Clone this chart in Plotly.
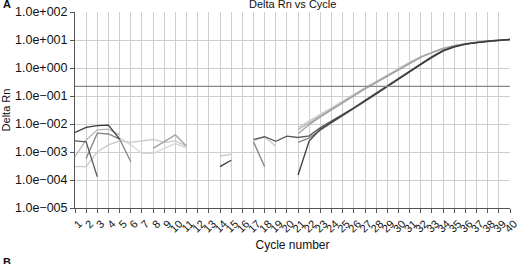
import plotly.graph_objects as go

cycles = list(range(1, 41))
N = None

# Delta Rn values per well (None = non-positive / not plotted on log scale)
well_1 = [0.0050, 0.0076, 0.0087, 0.0091, 0.0029, N, N, N, N, N,
          N, N, N, 0.00030, 0.00051, N, N, N, N, N,
          0.00015, 0.0025, 0.0065, 0.0115, 0.020, 0.036, 0.066, 0.12, 0.22, 0.39,
          0.74, 1.38, 2.45, 4.1, 5.7, 7.1, 8.2, 9.0, 9.7, 10.4]
well_2 = [0.0025, 0.0023, 0.00013, N, N, N, N, N, N, N,
          N, N, N, N, N, N, 0.0028, 0.0035, 0.0024, 0.0037,
          0.0033, 0.0038, 0.0074, 0.0125, 0.022, 0.038, 0.070, 0.127, 0.23, 0.41,
          0.78, 1.44, 2.55, 4.3, 5.9, 7.3, 8.4, 9.2, 9.9, 10.6]
well_3 = [N, 0.00059, 0.0047, 0.0044, 0.0029, 0.00045, N, N, N, N,
          N, N, N, N, N, N, 0.0023, 0.00030, N, N,
          0.0022, 0.0032, 0.0060, 0.0108, 0.019, 0.035, 0.064, 0.117, 0.215, 0.38,
          0.72, 1.35, 2.4, 4.0, 5.6, 7.0, 8.1, 8.9, 9.6, 10.3]
well_4 = [0.00068, 0.0027, 0.0062, 0.0065, 0.0041, N, N, N, N, N,
          N, N, N, N, N, N, N, N, N, N,
          0.0063, 0.0112, 0.020, 0.035, 0.063, 0.112, 0.19, 0.32, 0.54, 0.91,
          1.58, 2.5, 3.6, 5.0, 6.3, 7.4, 8.3, 9.1, 9.8, 10.5]
well_5 = [N, N, N, N, N, N, N, 0.00135, 0.0023, 0.0041,
          0.0016, N, N, N, N, N, N, N, N, N,
          0.0045, 0.0095, 0.018, 0.032, 0.058, 0.104, 0.18, 0.30, 0.51, 0.87,
          1.5, 2.4, 3.5, 4.9, 6.2, 7.3, 8.2, 9.0, 9.7, 10.3]
well_6 = [0.00030, 0.00030, 0.0010, 0.0018, 0.0025, 0.0022, 0.0025, 0.0028, 0.0022, 0.0025,
          0.0016, N, N, 0.00072, 0.00083, N, 0.0026, 0.0035, 0.0016, N,
          0.0075, 0.0125, 0.022, 0.038, 0.067, 0.118, 0.20, 0.33, 0.56, 0.94,
          1.62, 2.55, 3.7, 5.1, 6.4, 7.5, 8.4, 9.2, 9.9, 10.6]
well_7 = [N, N, N, N, 0.0032, 0.0018, 0.00089, 0.00089, 0.00135, 0.0020,
          0.0014, N, N, N, N, N, N, N, N, N,
          N, N, N, N, N, N, N, N, N, N,
          N, N, N, N, N, N, N, N, N, N]

wells = [well_7, well_6, well_4, well_5, well_3, well_2, well_1]
colors = ["#d6d6d6", "#c9c9c9", "#b8b8b8", "#a0a0a0", "#858585", "#5a5a5a", "#3a3a3a"]

threshold = 0.22
ytick_vals = [1e-5, 1e-4, 1e-3, 1e-2, 1e-1, 1e0, 1e1, 1e2]
ytick_text = ["1.0e\u2212005", "1.0e\u2212004", "1.0e\u2212003", "1.0e\u2212002",
              "1.0e\u2212001", "1.0e+000", "1.0e+001", "1.0e+002"]

fig = go.Figure()
for w, c in zip(wells, colors):
    fig.add_trace(go.Scatter(x=cycles, y=w, mode="lines",
                             line=dict(color=c, width=1.3),
                             connectgaps=False, showlegend=False))

fig.add_shape(type="line", xref="paper", x0=0, x1=1, yref="y",
              y0=threshold, y1=threshold, line=dict(color="#8a8a8a", width=1.2))

font = "Liberation Sans, Arial, sans-serif"
fig.update_layout(
    width=523, height=264,
    margin=dict(l=75, r=4, t=12, b=56),
    paper_bgcolor="white", plot_bgcolor="white",
    font=dict(family=font, color="#111", size=11),
    xaxis=dict(range=[0.9999, 40.0001], tickmode="array", tickvals=cycles,
               ticktext=[str(c) for c in cycles], tickangle=-45,
               tickfont=dict(size=11), ticks="outside", ticklen=4,
               ticklabelshift=4, ticklabeloverflow="allow",
               tickcolor="#555", showgrid=True, gridcolor="#cfcfcf",
               gridwidth=1, showline=True, linecolor="#555", linewidth=1,
               zeroline=False,
               title=dict(text="Cycle number", font=dict(size=12), standoff=6)),
    yaxis=dict(type="log", range=[-5, 2], tickmode="array",
               tickvals=ytick_vals, ticktext=ytick_text,
               tickfont=dict(size=12.5), ticks="outside", ticklen=4,
               tickcolor="#555", showgrid=True, gridcolor="#cfcfcf",
               gridwidth=1, showline=True, linecolor="#555", linewidth=1,
               zeroline=False,
               title=dict(text="Delta Rn", font=dict(size=11), standoff=2)),
)
fig.add_annotation(text="Delta Rn vs Cycle", xref="paper", yref="paper",
                   x=0.5, y=1, yshift=8, showarrow=False,
                   font=dict(size=11, color="#111"), yanchor="middle")
fig.add_annotation(text="<b>A</b>", xref="paper", yref="paper", x=0, y=1,
                   xshift=-74, yshift=8, showarrow=False, xanchor="left",
                   yanchor="middle", font=dict(size=11, color="#111"))
fig.add_annotation(text="<b>B</b>", xref="paper", yref="paper", x=0, y=0,
                   xshift=-74, yshift=-54, showarrow=False, xanchor="left",
                   yanchor="middle", font=dict(size=11, color="#111"))

fig.write_html("out.html")
